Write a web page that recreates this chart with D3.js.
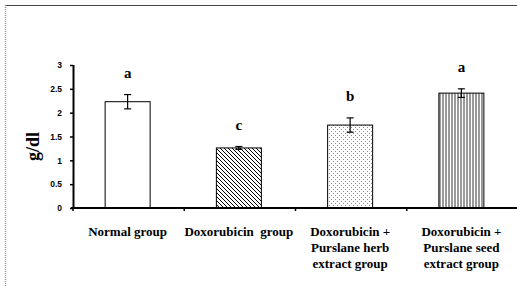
<!DOCTYPE html>
<html>
<head>
<meta charset="utf-8">
<script src="https://cdn.jsdelivr.net/npm/d3@7"></script>
<style>
  body { margin: 0; background: #fff; }
  svg { display: block; }
</style>
</head>
<body>
<div id="wrapper"></div>
<script>
// data
const groups = [
  ["Normal group"],
  ["Doxorubicin  group"],
  ["Doxorubicin +", "Purslane herb", "extract group"],
  ["Doxorubicin +", "Purslane seed", "extract group"],
]
const values = [2.23, 1.26, 1.74, 2.41]
const errors = [0.15, 0.03, 0.15, 0.09]
const letters = ["a", "c", "b", "a"]
const fills = ["none", "diag", "dots", "vert"]
const yTicks = [0, 0.5, 1, 1.5, 2, 2.5, 3]

const width = 517
const height = 286
const margin = { top: 65, right: 0, bottom: 78, left: 73 }
const boundedWidth = 445
const boundedHeight = 143

const svg = d3.select("#wrapper").append("svg")
  .attr("width", width)
  .attr("height", height)
  .style("font-family", "'Liberation Serif', 'Times New Roman', serif")
  .style("font-weight", "bold")

// patterns
const defs = svg.append("defs")
const diag = defs.append("pattern").attr("id", "diag")
  .attr("patternUnits", "userSpaceOnUse").attr("width", 4).attr("height", 4)
diag.append("path").attr("d", "M-1,-1 L5,5 M-1,3 L1,5 M3,-1 L5,1")
  .attr("stroke", "#000").attr("stroke-width", 1)
const dots = defs.append("pattern").attr("id", "dots")
  .attr("patternUnits", "userSpaceOnUse").attr("width", 4).attr("height", 4)
dots.append("rect").attr("x", 0).attr("y", 0).attr("width", 1).attr("height", 1).attr("fill", "#888")
dots.append("rect").attr("x", 2).attr("y", 2).attr("width", 1).attr("height", 1).attr("fill", "#888")
const vert = defs.append("pattern").attr("id", "vert")
  .attr("patternUnits", "userSpaceOnUse").attr("width", 3).attr("height", 4)
vert.append("line").attr("x1", 1).attr("x2", 1).attr("y1", 0).attr("y2", 4)
  .attr("stroke", "#000").attr("stroke-width", 0.8)

// frame
svg.append("line").attr("x1", 5).attr("x2", 517).attr("y1", 5.5).attr("y2", 5.5)
  .attr("stroke", "#444").attr("stroke-width", 1)
svg.append("line").attr("x1", 5.5).attr("x2", 5.5).attr("y1", 5).attr("y2", 286)
  .attr("stroke", "#999").attr("stroke-width", 1.5).attr("stroke-dasharray", "1 1")

const bounds = svg.append("g")
  .attr("transform", `translate(${margin.left}, ${margin.top})`)

// scales
const yScale = d3.scaleLinear().domain([0, 3]).range([boundedHeight, 0])
const xBand = d3.scaleBand().domain(d3.range(groups.length)).range([0, boundedWidth])

// bars
const barWidth = 45
const barX = (i) => xBand(i) + xBand.bandwidth() / 2 - barWidth / 2 - 1
bounds.selectAll(".bar").data(values).join("rect")
  .attr("x", (d, i) => barX(i))
  .attr("y", (d) => yScale(d))
  .attr("width", barWidth)
  .attr("height", (d) => boundedHeight - yScale(d))
  .attr("fill", (d, i) => fills[i] === "none" ? "#fff" : `url(#${fills[i]})`)
  .attr("stroke", "#000").attr("stroke-width", 1)

// error bars
const cx = (i) => barX(i) + barWidth / 2
const err = bounds.selectAll(".err").data(values).join("g")
err.append("line")
  .attr("x1", (d, i) => cx(i)).attr("x2", (d, i) => cx(i))
  .attr("y1", (d, i) => yScale(d + errors[i])).attr("y2", (d, i) => yScale(d - errors[i]))
  .attr("stroke", "#000").attr("stroke-width", 1.2)
err.append("line")
  .attr("x1", (d, i) => cx(i) - 3.5).attr("x2", (d, i) => cx(i) + 3.5)
  .attr("y1", (d, i) => yScale(d + errors[i])).attr("y2", (d, i) => yScale(d + errors[i]))
  .attr("stroke", "#000").attr("stroke-width", 1.2)
err.append("line")
  .attr("x1", (d, i) => cx(i) - 3.5).attr("x2", (d, i) => cx(i) + 3.5)
  .attr("y1", (d, i) => yScale(d - errors[i])).attr("y2", (d, i) => yScale(d - errors[i]))
  .attr("stroke", "#000").attr("stroke-width", 1.2)

// significance letters
bounds.selectAll(".letter").data(values).join("text")
  .attr("x", (d, i) => cx(i))
  .attr("y", (d, i) => yScale(d + errors[i]) - 17)
  .attr("text-anchor", "middle")
  .style("font-size", "15px")
  .text((d, i) => letters[i])

// y axis
const yAxis = bounds.append("g")
  .call(d3.axisLeft(yScale).tickValues(yTicks).tickSize(3).tickPadding(8)
    .tickFormat((d) => d))
yAxis.select(".domain").attr("stroke-width", 2).attr("d", `M0.5,0V${boundedHeight}`)
yAxis.selectAll(".tick line").attr("stroke-width", 1.5)
yAxis.selectAll("text").style("font-size", "8.5px").style("font-family", "inherit")

// x axis
const xAxis = bounds.append("g")
  .attr("transform", `translate(0, ${boundedHeight})`)
xAxis.append("line").attr("x1", -2).attr("x2", boundedWidth).attr("y1", 0).attr("y2", 0)
  .attr("stroke", "#000").attr("stroke-width", 2.2)
xAxis.selectAll(".xt").data(d3.range(groups.length + 1)).join("line")
  .attr("x1", (d) => d * xBand.step()).attr("x2", (d) => d * xBand.step())
  .attr("y1", 0).attr("y2", 3)
  .attr("stroke", "#000").attr("stroke-width", 1.5)

const labels = xAxis.selectAll(".xl").data(groups).join("text")
  .attr("text-anchor", "middle")
  .style("font-size", "13px")
  .style("white-space", "pre")
labels.each(function (d, i) {
  d3.select(this).selectAll("tspan").data(d).join("tspan")
    .attr("x", xBand(i) + xBand.bandwidth() / 2 - 1)
    .attr("y", (t, j) => 28 + j * 16)
    .text((t) => t)
})

// y label
svg.append("text")
  .attr("transform", `translate(39, ${margin.top + boundedHeight / 2 + 10}) rotate(-90)`)
  .attr("text-anchor", "middle")
  .style("font-size", "18px")
  .text("g/dl")
</script>
</body>
</html>
